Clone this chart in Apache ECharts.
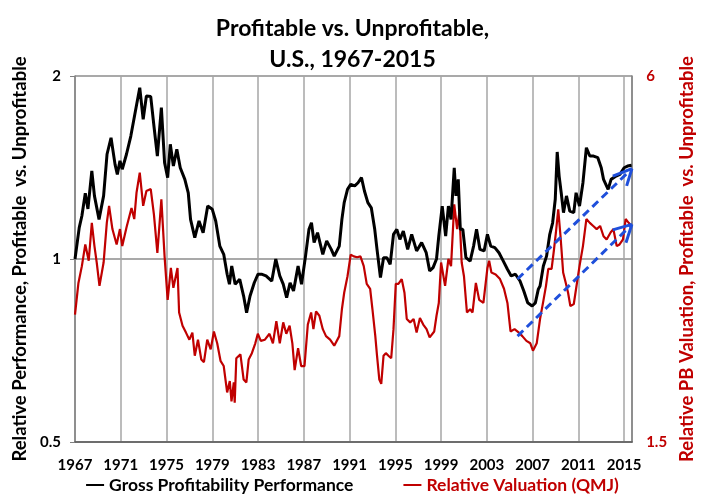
<!DOCTYPE html>
<html>
<head>
<meta charset="utf-8">
<script src="https://cdn.jsdelivr.net/npm/echarts@6/dist/echarts.min.js"></script>
<style>
  html, body { margin: 0; padding: 0; background: #fff; }
  #chart { width: 705px; height: 498px; }
</style>
</head>
<body>
<div id="chart"></div>
<script>
// [year, relative performance]  (left axis, log)
var grossProfitability = [
  [1967.00, 1.00], [1967.37, 1.126], [1967.60, 1.177], [1967.90, 1.283], [1968.13, 1.209],
  [1968.47, 1.396], [1968.70, 1.270], [1969.10, 1.162], [1969.50, 1.270], [1969.80, 1.487],
  [1970.15, 1.583], [1970.50, 1.431], [1970.70, 1.378], [1970.93, 1.450], [1971.13, 1.405],
  [1971.50, 1.487], [1971.88, 1.593], [1972.23, 1.730], [1972.66, 1.913], [1972.96, 1.698],
  [1973.24, 1.854], [1973.62, 1.850], [1973.90, 1.655], [1974.20, 1.477], [1974.55, 1.774],
  [1974.83, 1.440], [1975.10, 1.361], [1975.33, 1.544], [1975.60, 1.422], [1975.90, 1.515],
  [1976.20, 1.413], [1976.60, 1.352], [1976.90, 1.285], [1977.10, 1.162], [1977.47, 1.084],
  [1977.84, 1.155], [1978.20, 1.105], [1978.60, 1.222], [1979.00, 1.207], [1979.30, 1.155],
  [1979.66, 1.050], [1980.00, 1.018], [1980.30, 0.944], [1980.50, 0.909], [1980.70, 0.974],
  [1981.00, 0.909], [1981.40, 0.926], [1981.74, 0.869], [1982.00, 0.816], [1982.30, 0.869],
  [1982.67, 0.914], [1983.00, 0.944], [1983.30, 0.944], [1983.70, 0.938], [1984.20, 0.920],
  [1984.55, 1.000], [1984.90, 0.938], [1985.20, 0.909], [1985.50, 0.864], [1985.80, 0.914],
  [1986.10, 0.886], [1986.50, 0.974], [1986.80, 0.909], [1987.15, 1.011], [1987.45, 1.119],
  [1987.67, 1.147], [1987.90, 1.064], [1988.20, 1.105], [1988.66, 1.018], [1989.00, 1.071],
  [1989.40, 1.037], [1989.66, 1.011], [1990.10, 1.050], [1990.33, 1.162], [1990.53, 1.238],
  [1990.82, 1.302], [1991.10, 1.327], [1991.45, 1.319], [1991.74, 1.335], [1992.04, 1.361],
  [1992.30, 1.294], [1992.60, 1.238], [1992.90, 1.214], [1993.20, 1.119], [1993.40, 1.037],
  [1993.70, 0.932], [1993.97, 1.005], [1994.26, 1.005], [1994.55, 0.980], [1994.84, 1.098],
  [1995.13, 1.119], [1995.40, 1.077], [1995.70, 1.112], [1996.08, 1.037], [1996.43, 1.098],
  [1996.86, 1.031], [1997.30, 1.064], [1997.70, 1.024], [1998.00, 0.956], [1998.30, 0.968],
  [1998.60, 1.000], [1998.80, 1.091], [1999.10, 1.222], [1999.40, 1.091], [1999.64, 1.222],
  [1999.87, 1.162], [2000.15, 1.413], [2000.30, 1.270], [2000.50, 1.352], [2000.68, 1.119],
  [2000.90, 1.119], [2001.17, 1.005], [2001.54, 0.992], [2001.84, 1.050], [2002.10, 1.119],
  [2002.40, 1.037], [2002.76, 1.031], [2003.05, 1.098], [2003.34, 1.050], [2003.70, 1.044],
  [2004.06, 1.024], [2004.44, 0.992], [2004.80, 0.962], [2005.13, 0.938], [2005.50, 0.944],
  [2005.90, 0.920], [2006.23, 0.886], [2006.57, 0.847], [2006.96, 0.837], [2007.24, 0.847],
  [2007.50, 0.892], [2007.65, 0.903], [2007.94, 0.974], [2008.22, 1.011], [2008.50, 1.098],
  [2008.75, 1.147], [2008.98, 1.254], [2009.15, 1.500], [2009.32, 1.369], [2009.50, 1.285],
  [2009.70, 1.192], [2009.96, 1.270], [2010.25, 1.199], [2010.60, 1.192], [2010.80, 1.285],
  [2011.10, 1.222], [2011.40, 1.335], [2011.70, 1.524], [2012.00, 1.477], [2012.33, 1.477],
  [2012.70, 1.468], [2013.00, 1.413], [2013.20, 1.352], [2013.60, 1.302], [2013.86, 1.352],
  [2014.30, 1.369], [2014.63, 1.378], [2015.00, 1.413], [2015.30, 1.422], [2015.65, 1.426]
];

// [year, relative PB valuation]  (right axis, log)
var relativeValuation = [
  [1967.00, 2.43], [1967.30, 2.74], [1967.60, 2.92], [1967.90, 3.17], [1968.20, 2.98],
  [1968.47, 3.44], [1968.70, 3.15], [1968.90, 2.96], [1969.14, 2.71], [1969.50, 2.96],
  [1969.78, 3.44], [1969.98, 3.67], [1970.27, 3.36], [1970.64, 3.17], [1970.93, 3.36],
  [1971.13, 3.15], [1971.50, 3.38], [1971.94, 3.64], [1972.18, 3.49], [1972.38, 3.86],
  [1972.66, 4.16], [1972.96, 3.67], [1973.24, 3.88], [1973.62, 3.91], [1973.90, 3.55],
  [1974.20, 3.07], [1974.55, 3.76], [1974.83, 3.03], [1975.10, 2.57], [1975.38, 2.90],
  [1975.60, 2.69], [1975.96, 2.90], [1976.10, 2.45], [1976.40, 2.33], [1976.70, 2.27],
  [1977.00, 2.21], [1977.26, 2.27], [1977.47, 2.08], [1977.75, 2.21], [1978.04, 2.05],
  [1978.27, 2.03], [1978.56, 2.21], [1978.86, 2.13], [1979.14, 2.28], [1979.43, 2.18],
  [1979.72, 2.04], [1980.00, 2.00], [1980.30, 1.81], [1980.53, 1.89], [1980.68, 1.75],
  [1980.88, 1.88], [1980.96, 1.74], [1981.10, 2.06], [1981.46, 2.09], [1981.74, 1.90],
  [1981.98, 1.88], [1982.18, 2.05], [1982.46, 2.10], [1982.76, 2.18], [1982.98, 2.26],
  [1983.24, 2.20], [1983.60, 2.21], [1984.00, 2.26], [1984.30, 2.18], [1984.60, 2.37],
  [1984.90, 2.18], [1985.20, 2.36], [1985.47, 2.26], [1985.76, 2.33], [1986.00, 2.18],
  [1986.20, 1.97], [1986.50, 2.14], [1986.77, 2.00], [1987.06, 2.00], [1987.35, 2.34],
  [1987.64, 2.45], [1987.84, 2.30], [1988.07, 2.46], [1988.36, 2.42], [1988.66, 2.30],
  [1988.94, 2.24], [1989.30, 2.21], [1989.66, 2.16], [1990.10, 2.24], [1990.33, 2.48],
  [1990.53, 2.64], [1990.82, 2.81], [1991.10, 3.05], [1991.37, 3.03], [1991.66, 3.02],
  [1991.95, 3.03], [1992.24, 2.92], [1992.50, 2.73], [1992.80, 2.68], [1993.00, 2.48],
  [1993.25, 2.24], [1993.40, 2.08], [1993.60, 1.90], [1993.77, 1.87], [1993.97, 2.08],
  [1994.17, 2.10], [1994.40, 2.08], [1994.64, 2.06], [1994.84, 2.30], [1995.04, 2.73],
  [1995.27, 2.73], [1995.56, 2.78], [1995.80, 2.64], [1996.00, 2.39], [1996.30, 2.36],
  [1996.60, 2.39], [1996.86, 2.27], [1997.15, 2.40], [1997.44, 2.34], [1997.73, 2.30],
  [1998.00, 2.23], [1998.40, 2.28], [1998.60, 2.42], [1998.80, 2.54], [1999.00, 2.96],
  [1999.15, 2.96], [1999.35, 2.71], [1999.64, 3.00], [1999.87, 2.92], [2000.15, 3.69],
  [2000.40, 3.36], [2000.60, 3.58], [2000.80, 2.96], [2001.00, 2.81], [2001.26, 2.45],
  [2001.54, 2.48], [2001.75, 2.45], [2002.04, 2.74], [2002.33, 2.57], [2002.70, 2.54],
  [2003.05, 2.90], [2003.20, 2.98], [2003.40, 2.85], [2003.77, 2.83], [2004.15, 2.78],
  [2004.50, 2.68], [2004.80, 2.54], [2005.07, 2.28], [2005.42, 2.30], [2005.80, 2.27],
  [2006.10, 2.24], [2006.46, 2.20], [2006.80, 2.18], [2007.03, 2.12], [2007.36, 2.18],
  [2007.65, 2.39], [2007.94, 2.56], [2008.17, 2.71], [2008.37, 2.89], [2008.66, 2.89],
  [2008.87, 3.11], [2009.04, 3.32], [2009.24, 3.62], [2009.44, 3.27], [2009.67, 2.85],
  [2009.90, 2.74], [2010.10, 2.64], [2010.30, 2.51], [2010.60, 2.53], [2010.80, 2.68],
  [2011.10, 2.92], [2011.40, 3.15], [2011.70, 3.49], [2012.00, 3.44], [2012.30, 3.40],
  [2012.60, 3.36], [2012.90, 3.40], [2013.20, 3.27], [2013.47, 3.23], [2013.83, 3.32],
  [2014.06, 3.36], [2014.35, 3.15], [2014.60, 3.17], [2014.90, 3.23], [2015.13, 3.49],
  [2015.40, 3.44], [2015.65, 3.40]
];

var seriesNames = ['Gross Profitability Performance', 'Relative Valuation (QMJ)'];
var startYear = 1967;
var endYear = 2015.7;
var yearStep = 4;
var leftRange = [0.5, 2];
var rightRange = [1.5, 6];
var rightTicks = [1.5, 3, 6];

// trend arrows: [year, value] start / tip / arm1 / arm2
var upperArrow = [[2005.68, 0.927], [2015.68, 1.408], [2014.01, 1.369], [2015.22, 1.319]];
var lowerArrow = [[2005.68, 2.24], [2015.68, 3.42], [2014.00, 3.35], [2015.16, 3.19]];

var FONT = 'Lato';
var RED = '#C00000';
var BLUE = '#1F4FDB';

function toOffset(rows) {
  return rows.map(function (r) { return [r[0] - startYear, r[1]]; });
}

function arrowLines(a) {
  var p = toOffset(a);
  return [
    [{ coord: p[0] }, { coord: p[1] }],
    [{ coord: p[2], lineStyle: { type: 'solid' } }, { coord: p[1] }],
    [{ coord: p[3], lineStyle: { type: 'solid' } }, { coord: p[1] }]
  ];
}

var chart = echarts.init(document.getElementById('chart'));

var option = {
  animation: false,
  backgroundColor: '#fff',
  textStyle: { fontFamily: FONT },
  title: {
    text: 'Profitable vs. Unprofitable,\nU.S., 1967-2015',
    left: 'center',
    top: 8,
    textStyle: { fontFamily: FONT, fontSize: 23, fontWeight: 'bold', color: '#000', lineHeight: 31 }
  },
  legend: {
    bottom: -1,
    left: 'center',
    icon: 'rect',
    itemWidth: 18,
    itemHeight: 2,
    itemGap: 50,
    textStyle: { fontFamily: FONT, fontSize: 17.5, fontWeight: 'bold' },
    data: [
      { name: seriesNames[0], textStyle: { color: '#000' } },
      { name: seriesNames[1], textStyle: { color: RED } }
    ]
  },
  grid: { left: 75, right: 68, top: 76, bottom: 56 },
  xAxis: {
    type: 'value',
    min: 0,
    max: endYear - startYear,
    interval: yearStep,
    axisLine: { lineStyle: { color: '#595959', width: 1.5 } },
    axisTick: { show: false },
    splitLine: { show: true, lineStyle: { color: '#A6A6A6', width: 1.5 } },
    axisLabel: {
      margin: 16,
      color: '#000',
      fontFamily: FONT,
      fontSize: 15,
      fontWeight: 'bold',
      formatter: function (v) { return v % yearStep === 0 ? String(startYear + v) : ''; }
    }
  },
  yAxis: [
    {
      type: 'log',
      logBase: 2,
      min: leftRange[0],
      max: leftRange[1],
      name: 'Relative Performance, Profitable  vs. Unprofitable',
      nameLocation: 'middle',
      nameGap: 43,
      nameTextStyle: { fontFamily: FONT, fontSize: 18.5, fontWeight: 'bold', color: '#000' },
      axisLine: { show: true, lineStyle: { color: '#808080', width: 1.5 } },
      axisTick: { show: true, length: 5, lineStyle: { color: '#808080' } },
      splitLine: { show: true, lineStyle: { color: '#8C8C8C', width: 1.5 } },
      axisLabel: { margin: 14, color: '#000', fontFamily: FONT, fontSize: 15, fontWeight: 'bold' }
    },
    {
      type: 'log',
      logBase: 2,
      min: rightRange[0],
      max: rightRange[1],
      position: 'right',
      name: 'Relative PB Valuation, Profitable  vs. Unprofitable',
      nameLocation: 'middle',
      nameGap: 41,
      nameTextStyle: { fontFamily: FONT, fontSize: 18.5, fontWeight: 'bold', color: RED },
      axisLine: { show: true, lineStyle: { color: '#808080', width: 1.5 } },
      axisTick: { show: false },
      splitLine: { show: false },
      axisLabel: {
        margin: 14,
        color: RED,
        fontFamily: FONT,
        fontSize: 15,
        fontWeight: 'bold',
        formatter: function (v) {
          return rightTicks.some(function (t) { return Math.abs(t - v) < 1e-6; }) ? String(v) : '';
        }
      }
    }
  ],
  series: [
    {
      name: seriesNames[1],
      type: 'line',
      yAxisIndex: 1,
      symbol: 'none',
      z: 2,
      lineStyle: { color: RED, width: 2.2 },
      itemStyle: { color: RED },
      data: toOffset(relativeValuation),
      markLine: {
        silent: true,
        symbol: ['none', 'none'],
        label: { show: false },
        lineStyle: { color: BLUE, width: 3, type: [8, 5] },
        data: arrowLines(lowerArrow)
      }
    },
    {
      name: seriesNames[0],
      type: 'line',
      yAxisIndex: 0,
      symbol: 'none',
      z: 3,
      lineStyle: { color: '#000', width: 3 },
      itemStyle: { color: '#000' },
      data: toOffset(grossProfitability),
      markLine: {
        silent: true,
        symbol: ['none', 'none'],
        label: { show: false },
        lineStyle: { color: BLUE, width: 3, type: [8, 5] },
        data: arrowLines(upperArrow)
      }
    }
  ]
};

chart.setOption(option);
</script>
</body>
</html>
